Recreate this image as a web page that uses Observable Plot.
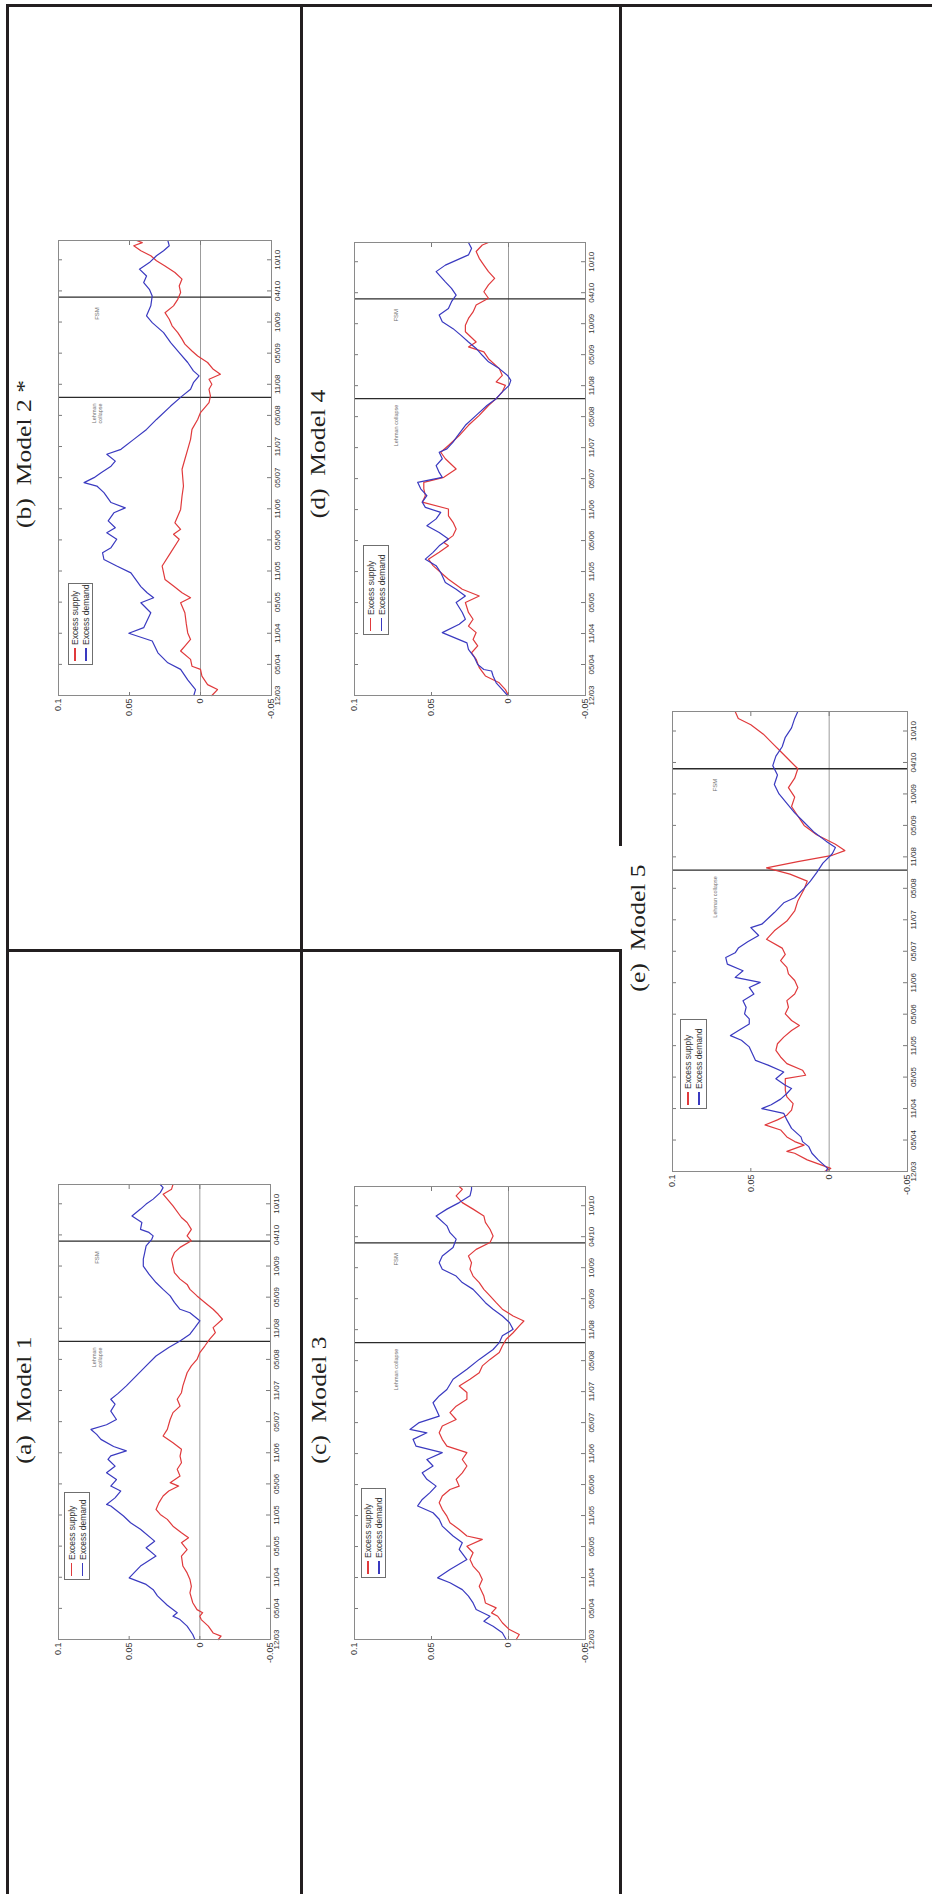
<!DOCTYPE html>
<html>
<head>
<meta charset="utf-8">
<script src="https://cdn.jsdelivr.net/npm/d3@7"></script>
<script src="https://cdn.jsdelivr.net/npm/@observablehq/plot@0.6"></script>
<style>
  html, body { margin: 0; padding: 0; background: #fff; }
  #page { position: relative; width: 932px; height: 1894px; overflow: hidden; background: #fff; }
  /* the figure is laid out in landscape and turned a quarter turn counter-clockwise */
  #sheet { position: absolute; left: 0; top: 0; width: 1894px; height: 932px;
           transform-origin: 0 0; transform: translate(0, 1894px) rotate(-90deg); }
  .rule { position: absolute; background: #231f20; }
  .title { position: absolute; font-family: "Liberation Serif", "Times New Roman", serif;
           font-size: 20px; line-height: 20px; white-space: pre; color: #231f20;
           transform: translateX(-50%) scaleX(1.28); transform-origin: center; }
  .panel { position: absolute; }
  .panel svg { display: block; max-width: none !important; }
  .legend { position: absolute; box-sizing: border-box; border: 1px solid #6f6f6f; background: #fff;
            font-family: "Liberation Sans", Arial, sans-serif; font-size: 8.5px; color: #333;
            display: flex; flex-direction: column; justify-content: center; padding-left: 3px; }
  .legend .row { display: flex; align-items: center; height: 11px; white-space: nowrap; }
  .legend .sw { display: inline-block; width: 13px; height: 1.2px; margin-right: 3px; }
</style>
</head>
<body>
<div id="page"><div id="sheet"></div></div>
<script>
// ---- axis labels -------------------------------------------------------
const dateLabels = ["12/03","05/04","11/04","05/05","11/05","05/06","11/06","05/07",
                    "11/07","05/08","11/08","05/09","10/09","04/10","10/10"];
const dateTickPositions = dateLabels.map((_, i) => i);
const xEnd = 14.62;                     // last observation, in tick intervals
const valueTicks = [0.1, 0.05, 0, -0.05];
const valueTickLabels = ["0.1", "0.05", "0", "-0.05"];

// ---- events (position in tick intervals) --------------------------------
const eventNames = ["Lehman collapse", "FSM"];
const eventDates = [9.58, 12.8];
const annotationLevel = 0.073;

const seriesNames = ["Excess supply", "Excess demand"];
const seriesColors = ["#e03a3c", "#3a3ac0"];

// ---- series: [position, value] -----------------------------------------
const model1Supply = [[0,-.013],[.11,-.015],[.21,-.0094],[.43,-.006],[.64,-.001],[.75,0],[.86,-.002],[.96,.002],[1.18,.005],[1.5,.007],[1.71,.006],[1.93,.007],[2.14,.009],[2.36,.012],[2.68,.013],[2.89,.009],[3.11,.013],[3.27,.008],[3.43,.013],[3.64,.019],[3.86,.023],[4.02,.028],[4.18,.031],[4.39,.029],[4.61,.026],[4.77,.022],[4.93,.015],[5.04,.021],[5.25,.014],[5.47,.016],[5.68,.013],[5.89,.014],[6.11,.013],[6.32,.019],[6.54,.026],[6.75,.023],[7.07,.021],[7.29,.019],[7.5,.014],[7.72,.016],[7.93,.013],[8.15,.012],[8.57,.009],[8.79,.006],[9.0,.002],[9.22,0],[9.43,-.0035],[9.65,-.007],[9.86,-.011],[10.02,-.0094],[10.29,-.016],[10.45,-.013],[10.61,-.0094],[10.83,-.0035],[11.04,.002],[11.25,.007],[11.41,.009],[11.58,.014],[11.79,.018],[12.0,.019],[12.22,.02],[12.43,.018],[12.6,.014],[12.81,.006],[12.97,.009],[13.18,.006],[13.4,.009],[13.56,.013],[13.93,.019],[14.15,.023],[14.31,.026],[14.47,.02],[14.62,.019]];
const model1Demand = [[0,.0035],[.16,.005],[.43,.009],[.64,.014],[.75,.019],[.86,.016],[1.1,.023],[1.4,.03],[1.6,.033],[1.77,.038],[1.98,.05],[2.36,.042],[2.68,.031],[2.95,.038],[3.16,.032],[3.54,.042],[3.75,.049],[3.97,.054],[4.29,.063],[4.34,.066],[4.55,.06],[4.77,.056],[4.93,.063],[5.14,.059],[5.36,.066],[5.57,.06],[5.79,.065],[5.9,.063],[6.06,.052],[6.2,.061],[6.43,.07],[6.59,.073],[6.75,.077],[6.9,.066],[7.07,.059],[7.34,.063],[7.56,.06],[7.72,.063],[7.9,.058],[8.15,.052],[8.47,.045],[8.79,.038],[9.11,.031],[9.38,.022],[9.59,.014],[9.81,.007],[10.02,.0035],[10.24,0],[10.5,.007],[10.61,.014],[10.83,.018],[11.04,.021],[11.25,.026],[11.47,.031],[11.74,.036],[12.0,.04],[12.22,.04],[12.43,.039],[12.65,.038],[12.86,.034],[12.97,.033],[13.08,.036],[13.18,.042],[13.4,.041],[13.61,.048],[13.83,.042],[13.99,.038],[14.15,.033],[14.36,.028],[14.52,.026],[14.62,.028]];

const model2Supply = [[0,-.008],[.19,-.012],[.35,-.005],[.62,-.001],[.84,0],[.94,.006],[1.16,.007],[1.43,.014],[1.59,.011],[1.8,.007],[2.01,.009],[2.3,.01],[2.66,.011],[2.98,.014],[3.14,.007],[3.3,.013],[3.52,.019],[3.73,.025],[4.16,.027],[4.59,.021],[5.02,.015],[5.18,.019],[5.34,.014],[5.55,.018],[5.98,.014],[6.41,.013],[6.73,.012],[7.27,.013],[7.59,.011],[7.91,.009],[8.23,.007],[8.55,.006],[8.87,.002],[9.09,0],[9.41,-.006],[9.62,-.007],[9.84,-.006],[10.0,-.008],[10.16,-.006],[10.32,-.014],[10.48,-.009],[10.7,-.005],[10.91,.002],[11.07,.006],[11.29,.011],[11.45,.013],[11.66,.016],[11.88,.02],[12.09,.022],[12.3,.025],[12.52,.019],[12.73,.016],[12.95,.014],[13.16,.015],[13.38,.013],[13.59,.018],[13.8,.025],[13.97,.031],[14.13,.035],[14.29,.042],[14.45,.047],[14.55,.041],[14.62,.045]];
const model2Demand = [[0,.0047],[.19,.0035],[.5,.009],[.84,.014],[1.05,.023],[1.37,.03],[1.75,.034],[2.0,.0505],[2.18,.04],[2.66,.035],[2.98,.042],[3.14,.033],[3.3,.0376],[3.5,.042],[3.94,.049],[4.16,.059],[4.37,.068],[4.59,.069],[4.75,.063],[5.02,.059],[5.23,.066],[5.39,.06],[5.61,.065],[5.87,.061],[6.03,.053],[6.2,.063],[6.52,.068],[6.73,.073],[6.84,.082],[7.0,.075],[7.16,.07],[7.37,.063],[7.53,.06],[7.75,.066],[7.91,.056],[8.23,.047],[8.55,.038],[8.87,.031],[9.3,.021],[9.62,.013],[9.84,.007],[10.05,.005],[10.27,.001],[10.43,.005],[10.7,.009],[11.02,.015],[11.34,.021],[11.66,.026],[11.98,.034],[12.2,.038],[12.52,.035],[12.84,.034],[13.05,.036],[13.27,.04],[13.48,.038],[13.7,.043],[13.91,.036],[14.13,.031],[14.29,.026],[14.45,.022],[14.62,.023]];

const model3Supply = [[0,-.005],[.16,-.007],[.32,-.0006],[.54,.004],[.75,.007],[.86,.011],[1.02,.008],[1.18,.015],[1.4,.016],[1.72,.019],[1.94,.017],[2.15,.019],[2.37,.023],[2.58,.025],[2.8,.023],[3.01,.027],[3.23,.017],[3.34,.027],[3.55,.032],[3.77,.038],[3.98,.04],[4.2,.043],[4.41,.045],[4.63,.043],[4.84,.038],[4.95,.032],[5.17,.034],[5.38,.03],[5.6,.027],[5.81,.03],[6.03,.027],[6.24,.04],[6.46,.043],[6.67,.045],[6.89,.043],[7.1,.034],[7.32,.038],[7.53,.034],[7.75,.027],[7.97,.027],[8.18,.032],[8.4,.025],[8.61,.019],[8.83,.017],[9.04,.012],[9.26,.006],[9.47,.004],[9.69,.0015],[9.9,-.003],[10.12,-.007],[10.28,-.01],[10.44,-.003],[10.66,.004],[10.87,.008],[11.09,.012],[11.3,.016],[11.52,.019],[11.73,.023],[11.95,.025],[12.16,.024],[12.38,.026],[12.59,.021],[12.81,.012],[13.02,.01],[13.24,.012],[13.46,.015],[13.67,.016],[13.89,.023],[14.1,.03],[14.32,.034],[14.53,.03],[14.62,.032]];
const model3Demand = [[0,.0015],[.22,.004],[.43,.01],[.59,.016],[.75,.012],[.97,.021],[1.18,.023],[1.4,.026],[1.61,.03],[1.83,.038],[1.99,.046],[2.26,.038],[2.58,.027],[2.91,.032],[3.12,.03],[3.34,.036],[3.66,.043],[3.88,.045],[4.09,.049],[4.31,.059],[4.52,.056],[4.74,.051],[4.95,.047],[5.17,.053],[5.38,.056],[5.6,.049],[5.81,.053],[6.03,.043],[6.24,.06],[6.46,.062],[6.67,.053],[6.78,.064],[7.0,.058],[7.21,.045],[7.43,.047],[7.64,.049],[7.86,.045],[8.07,.04],[8.4,.036],[8.72,.027],[9.04,.019],[9.36,.01],[9.58,.006],[9.8,.004],[10.01,-.003],[10.23,-.0006],[10.44,.004],[10.66,.01],[10.87,.015],[11.09,.019],[11.3,.023],[11.52,.03],[11.73,.034],[11.95,.043],[12.16,.045],[12.38,.043],[12.65,.036],[12.92,.034],[13.13,.038],[13.35,.04],[13.67,.047],[13.89,.04],[14.1,.032],[14.32,.025],[14.53,.024],[14.62,.024]];

const model4Supply = [[0,0],[.19,.002],[.41,.006],[.63,.015],[.9,.019],[1.17,.021],[1.38,.024],[1.6,.02],[1.81,.023],[2.03,.021],[2.24,.026],[2.46,.023],[2.68,.026],[3.0,.028],[3.21,.019],[3.43,.03],[3.75,.039],[3.97,.044],[4.19,.049],[4.4,.052],[4.62,.045],[4.83,.039],[4.94,.042],[5.16,.036],[5.37,.034],[5.59,.036],[5.8,.039],[6.02,.039],[6.24,.056],[6.45,.054],[6.67,.055],[6.88,.055],[7.04,.042],[7.31,.034],[7.64,.041],[7.85,.044],[8.07,.039],[8.39,.032],[8.72,.026],[9.04,.019],[9.36,.013],[9.58,.008],[9.8,.004],[10.01,.002],[10.12,.008],[10.33,.004],[10.55,.006],[10.87,.013],[11.09,.016],[11.25,.026],[11.41,.021],[11.74,.028],[11.95,.028],[12.17,.026],[12.38,.023],[12.6,.021],[12.82,.013],[13.03,.016],[13.25,.013],[13.46,.009],[13.68,.013],[13.89,.016],[14.11,.019],[14.33,.021],[14.54,.017],[14.62,.013]];
const model4Demand = [[0,.0006],[.19,.004],[.41,.008],[.63,.01],[.79,.011],[.84,.016],[1.0,.02],[1.22,.022],[1.49,.026],[1.7,.027],[2.03,.043],[2.3,.032],[2.46,.028],[2.68,.03],[3.0,.034],[3.21,.028],[3.43,.034],[3.65,.041],[3.97,.044],[4.19,.047],[4.4,.054],[4.62,.049],[4.83,.045],[5.05,.039],[5.26,.045],[5.48,.053],[5.7,.047],[5.91,.044],[6.07,.054],[6.24,.056],[6.45,.053],[6.67,.057],[6.88,.059],[7.04,.043],[7.2,.045],[7.42,.047],[7.64,.043],[7.85,.045],[7.96,.04],[8.18,.036],[8.39,.033],[8.72,.028],[9.04,.021],[9.36,.014],[9.58,.008],[9.8,.004],[10.01,-.0004],[10.17,-.0015],[10.33,.0006],[10.55,.006],[10.77,.013],[10.98,.017],[11.2,.021],[11.41,.026],[11.63,.031],[11.84,.036],[12.06,.043],[12.28,.045],[12.49,.039],[12.71,.037],[12.92,.034],[13.14,.037],[13.35,.041],[13.68,.047],[13.89,.041],[14.22,.026],[14.43,.024],[14.62,.026]];

const model5Supply = [[0,.003],[.1,-.001],[.37,.014],[.58,.022],[.64,.027],[.84,.016],[.95,.022],[1.1,.027],[1.32,.031],[1.48,.041],[1.64,.033],[1.79,.027],[1.95,.024],[2.16,.023],[2.37,.027],[2.58,.028],[2.95,.028],[3.06,.015],[3.22,.017],[3.43,.027],[3.64,.031],[3.85,.034],[4.06,.033],[4.27,.029],[4.48,.024],[4.64,.019],[4.8,.024],[5.01,.028],[5.22,.026],[5.43,.027],[5.64,.022],[5.85,.02],[6.07,.022],[6.28,.026],[6.49,.027],[6.7,.031],[6.9,.028],[7.1,.03],[7.38,.04],[7.65,.035],[7.96,.027],[8.28,.022],[8.6,.02],[8.97,.016],[9.23,.014],[9.45,.025],[9.65,.04],[9.85,.02],[10.05,-.002],[10.2,-.01],[10.4,-.004],[10.7,.008],[11.0,.016],[11.3,.02],[11.6,.024],[11.9,.022],[12.2,.026],[12.5,.022],[12.8,.02],[13.0,.024],[13.3,.03],[13.6,.036],[13.9,.042],[14.2,.05],[14.4,.058],[14.62,.06]];
const model5Demand = [[0,.002],[.1,.001],[.37,.007],[.58,.011],[.79,.013],[.95,.017],[1.1,.018],[1.37,.024],[1.64,.027],[1.85,.029],[2.0,.043],[2.12,.037],[2.3,.031],[2.48,.027],[2.64,.024],[2.74,.028],[2.95,.034],[3.16,.029],[3.38,.039],[3.53,.047],[3.74,.049],[3.96,.051],[4.17,.056],[4.32,.063],[4.54,.056],[4.69,.051],[4.85,.051],[5.01,.054],[5.22,.053],[5.43,.055],[5.64,.048],[5.85,.051],[6.01,.044],[6.17,.06],[6.38,.055],[6.59,.065],[6.8,.066],[6.95,.06],[7.1,.058],[7.3,.052],[7.5,.045],[7.75,.05],[7.86,.043],[8.23,.035],[8.54,.029],[8.7,.022],[9.0,.016],[9.23,.012],[9.5,.008],[9.8,.004],[10.1,-.002],[10.3,-.004],[10.5,.002],[10.8,.01],[11.1,.016],[11.4,.022],[11.7,.027],[12.0,.032],[12.3,.035],[12.6,.033],[12.9,.036],[13.2,.034],[13.5,.03],[13.8,.028],[14.1,.024],[14.4,.022],[14.62,.02]];

// ---- sheet layout (landscape pixels) -------------------------------------
const panels = [
  {title: "(a)  Model 1",   supply: model1Supply, demand: model1Demand, lehman: "Lehman\ncollapse",
   frame: [254, 709, 58, 270],  titleAt: [494, 14],   legend: [60, 6, 88, 26]},
  {title: "(b)  Model 2 *", supply: model2Supply, demand: model2Demand, lehman: "Lehman\ncollapse",
   frame: [1198, 1653, 58, 271], titleAt: [1440, 14],  legend: [31, 10, 82, 25]},
  {title: "(c)  Model 3",   supply: model3Supply, demand: model3Demand, lehman: "Lehman collapse",
   frame: [254, 707, 354, 585], titleAt: [494, 309],  legend: [62, 7, 90, 25]},
  {title: "(d)  Model 4",   supply: model4Supply, demand: model4Demand, lehman: "Lehman collapse",
   frame: [1198, 1651, 354, 585], titleAt: [1440, 308], legend: [61, 9, 90, 26]},
  {title: "(e)  Model 5",   supply: model5Supply, demand: model5Demand, lehman: "Lehman collapse",
   frame: [722, 1182, 672, 907], titleAt: [966, 628],  legend: [63, 8, 90, 27]}
];

// table rules: [left, top, width, height]
const tableRules = [
  [0, 6, 1889.5, 3],        // outer edge
  [0, 300, 1889.5, 3],      // between the two rows of models
  [0, 619, 945, 3],         // above the last model
  [1048, 619, 841.5, 3],
  [942, 6, 3, 616],         // between the two columns
  [1886.5, 6, 3, 926]       // outer edge
];

const sheet = document.getElementById("sheet");

for (const r of tableRules) {
  const d = document.createElement("div");
  d.className = "rule";
  Object.assign(d.style, {left: r[0] + "px", top: r[1] + "px", width: r[2] + "px", height: r[3] + "px"});
  sheet.appendChild(d);
}

const ML = 40, MR = 16, MT = 8, MB = 24;

for (const p of panels) {
  const [u0, u1, v0, v1] = p.frame;
  const fw = u1 - u0, fh = v1 - v0;
  const events = eventNames.map((name, i) => ({name: i === 0 ? p.lehman : name, t: eventDates[i]}));

  const chart = Plot.plot({
    width: fw + ML + MR,
    height: fh + MT + MB,
    marginLeft: ML, marginRight: MR, marginTop: MT, marginBottom: MB,
    x: {domain: [0, xEnd], axis: null},
    y: {domain: [-0.05, 0.1], axis: null},
    style: {background: "transparent", color: "#333", fontFamily: "'Liberation Sans', Arial, sans-serif", overflow: "visible"},
    marks: [
      Plot.ruleY([0], {stroke: "#9c9c9c", strokeWidth: 1}),
      Plot.ruleX(events, {x: "t", stroke: "#2b2b2b", strokeWidth: 1.4}),
      Plot.text(events.slice(0, 1), {x: "t", y: () => annotationLevel, text: "name", textAnchor: "end",
        dx: -6, fontSize: 5.5, lineHeight: 1.1, fill: "#707070"}),
      Plot.text(events.slice(1), {x: "t", y: () => annotationLevel, text: "name", textAnchor: "end",
        dx: -10, fontSize: 6, fill: "#707070"}),
      Plot.line(p.supply, {x: d => d[0], y: d => d[1], stroke: seriesColors[0], strokeWidth: 1.2}),
      Plot.line(p.demand, {x: d => d[0], y: d => d[1], stroke: seriesColors[1], strokeWidth: 1.2}),
      // inward ticks on all four sides
      Plot.tickX(dateTickPositions, {x: d => d, insetTop: fh - 4, stroke: "#7a7a7a"}),
      Plot.tickX(dateTickPositions, {x: d => d, insetBottom: fh - 4, stroke: "#7a7a7a"}),
      Plot.tickY(valueTicks, {y: d => d, insetRight: fw - 4, stroke: "#7a7a7a"}),
      Plot.tickY(valueTicks, {y: d => d, insetLeft: fw - 4, stroke: "#7a7a7a"}),
      Plot.axisX(dateTickPositions, {tickSize: 0, tickPadding: 3, fontSize: 8, label: null,
        tickFormat: d => dateLabels[d]}),
      Plot.axisY(valueTicks, {tickSize: 0, tickPadding: 3, fontSize: 9, label: null,
        tickFormat: d => valueTickLabels[valueTicks.indexOf(d)]}),
      Plot.frame({stroke: "#8a8a8a"})
    ]
  });

  const wrap = document.createElement("div");
  wrap.className = "panel";
  Object.assign(wrap.style, {left: (u0 - ML) + "px", top: (v0 - MT) + "px",
    width: (fw + ML + MR) + "px", height: (fh + MT + MB) + "px"});
  wrap.appendChild(chart);
  sheet.appendChild(wrap);

  // legend box
  const [lx, ly, lw, lh] = p.legend;
  const lg = document.createElement("div");
  lg.className = "legend";
  Object.assign(lg.style, {left: (u0 + lx) + "px", top: (v0 + ly) + "px", width: lw + "px", height: lh + "px"});
  seriesNames.forEach((name, i) => {
    const row = document.createElement("div");
    row.className = "row";
    const sw = document.createElement("span");
    sw.className = "sw";
    sw.style.background = seriesColors[i];
    row.appendChild(sw);
    row.appendChild(document.createTextNode(name));
    lg.appendChild(row);
  });
  sheet.appendChild(lg);

  // panel heading
  const t = document.createElement("div");
  t.className = "title";
  t.textContent = p.title;
  Object.assign(t.style, {left: p.titleAt[0] + "px", top: p.titleAt[1] + "px"});
  sheet.appendChild(t);
}
</script>
</body>
</html>
